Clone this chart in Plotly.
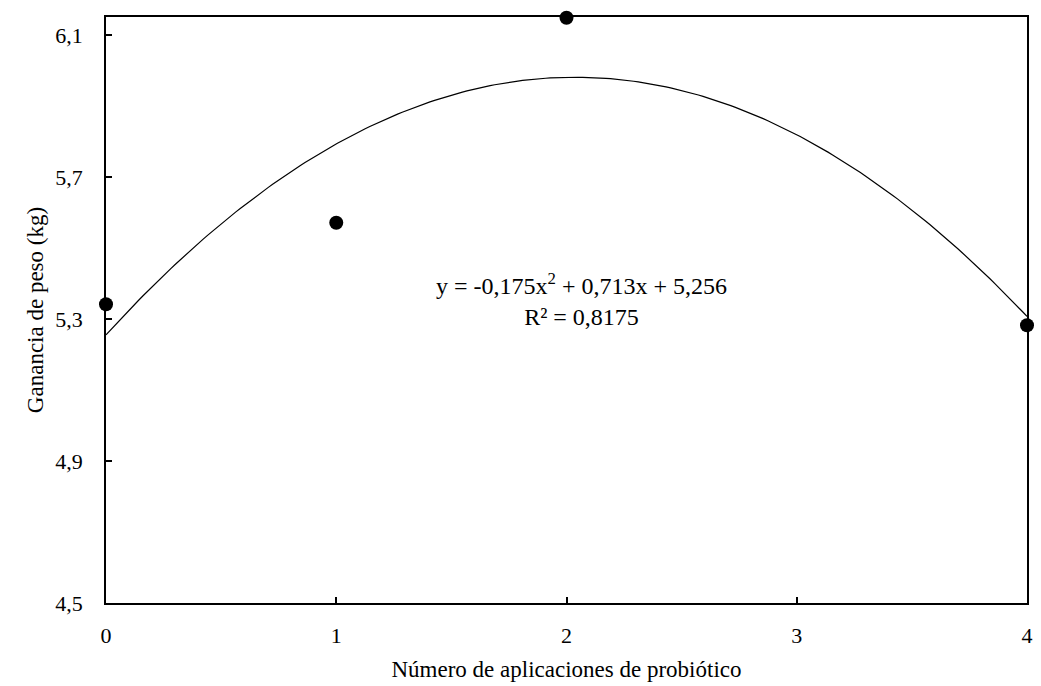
import numpy as np
import plotly.graph_objects as go

x_vals = [0, 1, 2, 4]
y_vals = [5.342, 5.572, 6.15, 5.283]
coef = [-0.175, 0.713, 5.256]  # a, b, c of fitted quadratic
x_ticks = [0, 1, 2, 3, 4]
y_ticks = [4.5, 4.9, 5.3, 5.7, 6.1]

xc = np.linspace(0, 4, 200)
yc = coef[0] * xc**2 + coef[1] * xc + coef[2]

font = "Liberation Serif, Times New Roman, serif"

fig = go.Figure()
fig.add_trace(go.Scatter(x=xc, y=yc, mode="lines",
                         line=dict(color="black", width=1.2), showlegend=False,
                         hoverinfo="skip"))
fig.add_trace(go.Scatter(x=x_vals, y=y_vals, mode="markers",
                         marker=dict(color="black", size=14), showlegend=False,
                         cliponaxis=False))

fig.add_annotation(x=2.063, y=5.356, xref="x", yref="y",
                   text="y = -0,175x<sup>2</sup> + 0,713x + 5,256<br>R² = 0,8175",
                   showarrow=False, font=dict(family=font, size=24, color="black"),
                   align="center")

fig.update_layout(
    width=1041, height=686,
    margin=dict(l=106, r=8, t=17, b=81),
    paper_bgcolor="white", plot_bgcolor="white",
    separators=", ",
    font=dict(family=font, size=22, color="black"),
)
fig.update_xaxes(range=[0, 4], tickvals=x_ticks, ticks="inside", ticklen=6,
                 tickwidth=1.5, tickcolor="black",
                 showline=True, linecolor="black", linewidth=1.5, mirror=True,
                 showgrid=False, zeroline=False, ticklabelstandoff=12,
                 title=dict(text="Número de aplicaciones de probiótico",
                            font=dict(size=23), standoff=14))
fig.update_yaxes(range=[4.5, 6.152], tickvals=y_ticks, tickformat=".1f",
                 ticks="inside", ticklen=6, tickwidth=1.5, tickcolor="black",
                 showline=True, linecolor="black", linewidth=1.5, mirror=True,
                 showgrid=False, zeroline=False, ticklabelstandoff=17,
                 title=dict(text="Ganancia de peso (kg)", font=dict(size=23),
                            standoff=5))

post = (
    "document.documentElement.style.overflow='hidden';"
    "document.body.style.margin='0';document.body.style.overflow='hidden';"
    "var d=document.getElementById('{plot_id}');"
    "d.style.position='fixed';d.style.left='0px';d.style.top='0px';"
)
fig.write_html("out.html", config={"displayModeBar": False}, post_script=post)
